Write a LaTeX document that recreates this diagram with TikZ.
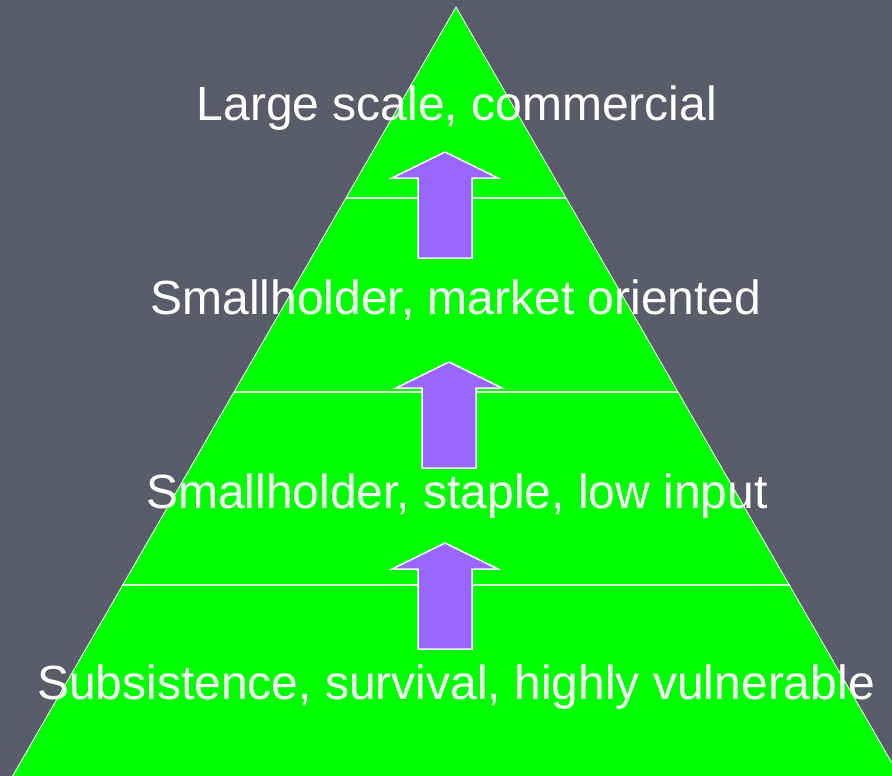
\documentclass[tikz,border=0pt]{standalone}
\usepackage{fontspec}
\setmainfont{Liberation Sans}
\definecolor{bgcol}{RGB}{90,92,106}
\definecolor{pyrgreen}{RGB}{0,255,0}
\definecolor{arrowpurple}{RGB}{153,102,255}
\begin{document}
\begin{tikzpicture}[x=1pt,y=-1pt,
  label/.style={text=white,font=\fontsize{48}{56}\selectfont,anchor=base,inner sep=0pt},
  tier/.style={draw=white!85!pyrgreen,line width=2pt},
  uparrow/.pic={
    \draw[fill=arrowpurple,draw=white,line width=1.5pt,line join=miter]
      (0,0) -- (53,26) -- (27,26) -- (27,106) -- (-27,106) -- (-27,26) -- (-53,26) -- cycle;
  }]
  \useasboundingbox (0,0) rectangle (892,776);
  \fill[bgcol] (0,0) rectangle (892,776);
  \begin{scope}
    \clip (0,0) rectangle (892,776);
    \coordinate (apex) at (456,7);
    \coordinate (bl) at (12,777);
    \coordinate (br) at (900,777);
    \draw[fill=pyrgreen,draw=white,line width=0.8pt] (apex) -- (br) -- (bl) -- cycle;
  \end{scope}
  % tier lines
  \coordinate (l1a) at (346,198); \coordinate (l1b) at (566,198);
  \coordinate (l2a) at (234,392); \coordinate (l2b) at (678,392);
  \coordinate (l3a) at (122,585); \coordinate (l3b) at (790,585);
  \draw[tier] (l1a) -- (l1b);
  \draw[tier] (l2a) -- (l2b);
  \draw[tier] (l3a) -- (l3b);
  % arrows
  \pic (a1) at (445,152) {uparrow};
  \pic (a2) at (449,362) {uparrow};
  \pic (a3) at (445,543) {uparrow};
  % labels
  \node[label] (t1) at (457,121) {Large scale, commercial};
  \node[label] (t2) at (456,314) {Smallholder, market oriented};
  \node[label] (t3) at (457,508) {Smallholder, staple, low input};
  \node[label] (t4) at (456,699) {Subsistence, survival, highly vulnerable};
\end{tikzpicture}
\end{document}
